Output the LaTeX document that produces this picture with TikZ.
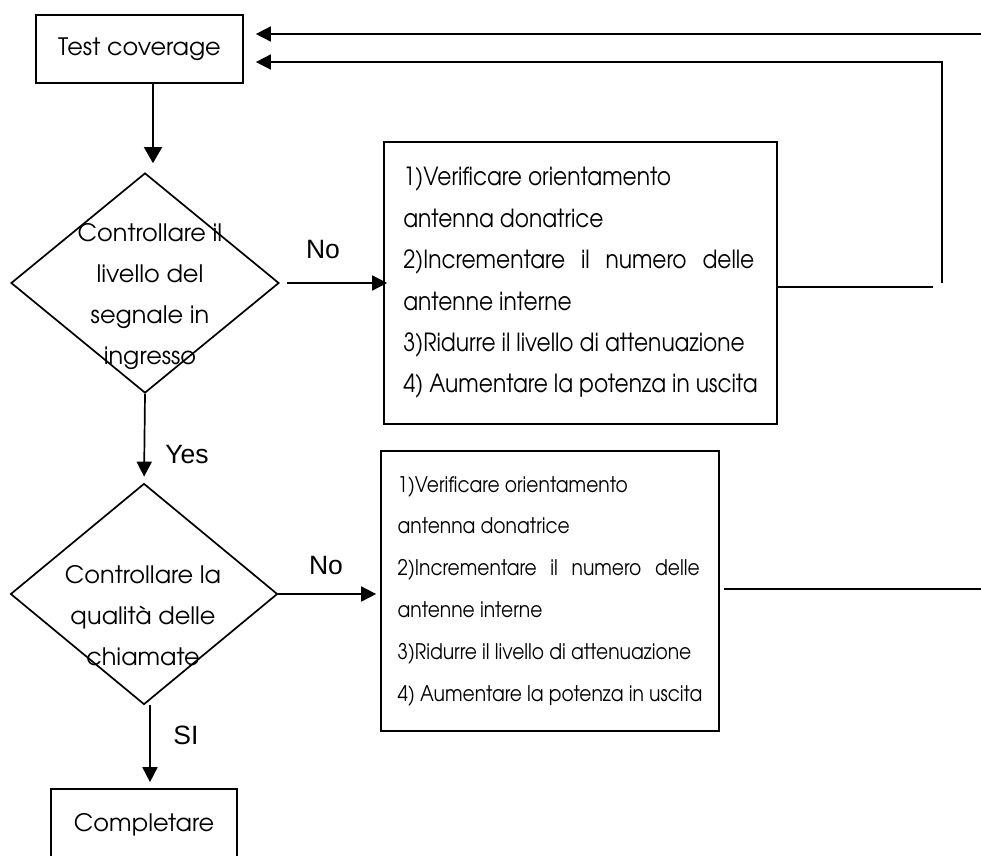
\documentclass[tikz,border=0pt]{standalone}
\usepackage{fontspec}
\setmainfont{TeX Gyre Adventor}
\newfontfamily\arialfam{Liberation Sans}
\newfontfamily\narrowfam[FakeStretch=0.87]{TeX Gyre Adventor}
\usetikzlibrary{shapes.geometric,arrows.meta}
\begin{document}
\begin{tikzpicture}[x=1pt,y=-1pt,line width=1.7pt,
  box/.style={draw,rectangle,inner sep=0pt},
  dia/.style={draw,diamond,inner sep=0pt},
  arr/.style={-{Triangle[length=15pt,width=15pt]}},
  bigarr/.style={-{Triangle[length=16pt,width=18pt]}},
  lbl/.style={font=\arialfam\fontsize{26.5}{30}\selectfont,inner sep=0pt},
  dtext/.style={font=\fontsize{24}{41}\selectfont,align=center,inner sep=0pt},
  listA/.style={font=\narrowfam\fontsize{25}{41.4}\selectfont},
  listB/.style={font=\narrowfam\fontsize{21.5}{41.8}\selectfont}]
\useasboundingbox (0,0) rectangle (981,855);

\node[box,minimum width=207,minimum height=68,font=\fontsize{24}{30}\selectfont] (tc) at (139.5,49) {Test coverage};

\node[dia,minimum width=268,minimum height=220] (d1) at (145,283) {};
\node[dtext] (d1t) at (150,297) {Controllare il\\livello del\\segnale in\\ingresso};

\node[box,listA,minimum width=393,minimum height=282,align=left] (b1) at (580.5,283)
 {1)Verificare orientamento\\antenna donatrice\\\makebox[351pt][s]{2)Incrementare il numero delle}\\antenne interne\\3)Ridurre il livello di attenuazione\\4) Aumentare la potenza in uscita};

\node[dia,minimum width=267,minimum height=221] (d2) at (144,594) {};
\node[dtext] (d2t) at (143,616) {Controllare la\\qualità delle\\chiamate};

\node[box,listB,minimum width=338,minimum height=280,align=left] (b2) at (550,591)
 {1)Verificare orientamento\\antenna donatrice\\\makebox[302pt][s]{2)Incrementare il numero delle}\\antenne interne\\3)Ridurre il livello di attenuazione\\4) Aumentare la potenza in uscita};

\node[box,minimum width=186,minimum height=72,font=\fontsize{24}{30}\selectfont] (done) at (144,825) {Completare};

% labels
\node[lbl] (no1) at (323,250) {No};
\node[lbl] (yes) at (187,455) {Yes};
\node[lbl] (no2) at (326,565) {No};
\node[lbl] (si) at (186,735) {SI};

% connectors
\draw[bigarr,shorten >=9pt] ([xshift=13.5pt]tc.south) -- ([xshift=13.5pt]tc.south |- d1.north);
\draw[arr,shorten <=7pt,shorten >=-4pt] (d1.east) -- (d1.east -| b1.west);
\draw[arr,shorten >=6pt] (d1.south) -- (d2.north);
\draw[arr,shorten >=4pt] (d2.east) -- (d2.east -| b2.west);
\draw[arr,shorten >=6pt] ([xshift=6pt]d2.south) -- ([xshift=6pt]d2.south |- done.north);

\coordinate (c1) at (942,283);
\coordinate (c2) at (942,62);
\coordinate (c3) at (981,34);
\coordinate (c4) at (933,287);
\draw ([yshift=-4pt]b1.east) -- (c4);
\draw[arr,shorten >=12pt] (c1) -- (c2) -- (c2 -| tc.east);
\draw[arr,shorten >=12pt] (c3) -- (c3 -| tc.east);
\draw ([xshift=4pt,yshift=2pt]b2.east) -- ([yshift=2pt]b2.east -| c3);
\end{tikzpicture}
\end{document}
